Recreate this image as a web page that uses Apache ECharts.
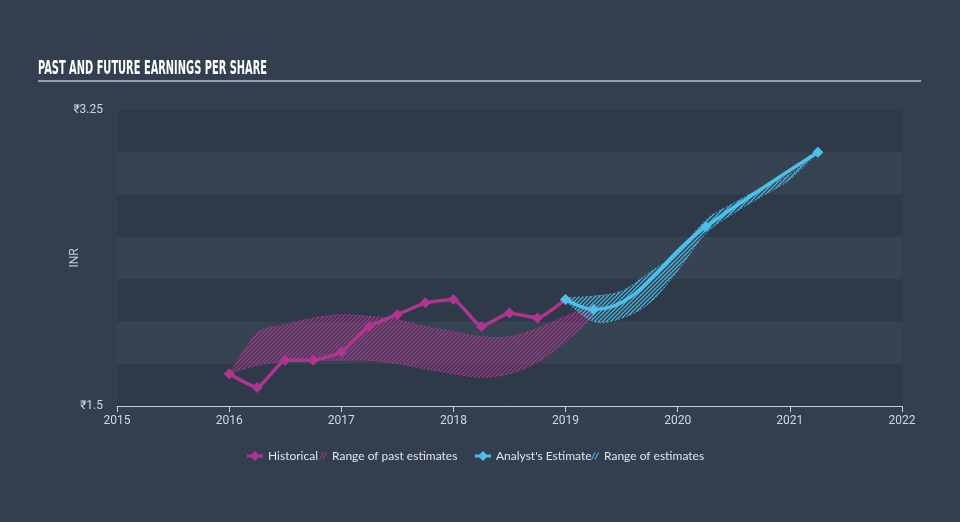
<!DOCTYPE html>
<html>
<head>
<meta charset="utf-8">
<script src="https://cdn.jsdelivr.net/npm/echarts@6/dist/echarts.min.js"></script>
<style>
html,body{margin:0;padding:0;background:#333f4e;}
#chart{width:960px;height:522px;}
</style>
</head>
<body>
<div id="chart"></div>
<script>
// ---- data ----
const histYears = [2016.0, 2016.25, 2016.5, 2016.75, 2017.0, 2017.25, 2017.5, 2017.75, 2018.0, 2018.25, 2018.5, 2018.75, 2019.0];
const histEps   = [1.69, 1.61, 1.77, 1.77, 1.82, 1.97, 2.04, 2.11, 2.13, 1.97, 2.05, 2.02, 2.13];

const pastRangeYears = [2016.0, 2016.25, 2016.5, 2016.75, 2017.0, 2017.25, 2017.5, 2017.75, 2018.0, 2018.25, 2018.5, 2018.75, 2019.0, 2019.25];
const pastRangeHigh  = [1.69, 1.93, 1.98, 2.02, 2.04, 2.03, 2.01, 1.97, 1.94, 1.91, 1.91, 1.96, 2.03, 2.10];
const pastRangeLow   = [1.69, 1.74, 1.76, 1.77, 1.77, 1.77, 1.75, 1.72, 1.69, 1.67, 1.69, 1.76, 1.88, 2.03];

const estYears = [2019.0, 2019.25, 2020.25, 2021.25];
const estEps   = [2.13, 2.07, 2.56, 3.00];

const estRangeYears = [2019.0, 2019.25, 2019.5, 2019.75, 2020.0, 2020.25, 2020.5, 2020.75, 2021.0, 2021.25];
const estRangeHigh  = [2.14, 2.15, 2.18, 2.29, 2.41, 2.60, 2.70, 2.79, 2.87, 3.00];
const estRangeLow   = [2.12, 2.00, 2.02, 2.11, 2.30, 2.52, 2.64, 2.74, 2.84, 3.00];

const xTicks = [2015, 2016, 2017, 2018, 2019, 2020, 2021, 2022];
const yTickLabels = [1.5, 3.25];

const TITLE = 'PAST AND FUTURE EARNINGS PER SHARE';

// ---- styles ----
const MAGENTA = '#b0358f';
const BLUE = '#4cc0e8';
const FONT = 'Roboto, "Noto Sans", "DejaVu Sans", sans-serif';
const TITLE_FONT = 'bold 19px "Liberation Sans Narrow", "DejaVu Sans Condensed", "Liberation Sans", sans-serif';

function hatch(color) {
  const c = document.createElement('canvas');
  c.width = 4; c.height = 4;
  const g = c.getContext('2d');
  g.strokeStyle = color;
  g.lineWidth = 1.3;
  g.beginPath();
  g.moveTo(0, 4); g.lineTo(4, 0);
  g.moveTo(-1, 1); g.lineTo(1, -1);
  g.moveTo(3, 5); g.lineTo(5, 3);
  g.stroke();
  return c;
}

function titleScale() {
  const c = document.createElement('canvas').getContext('2d');
  c.font = TITLE_FONT;
  const w = c.measureText(TITLE).width;
  return w > 0 ? 229 / w : 0.6;
}

// Catmull-Rom sampled curve in pixel space
function curve(pts) {
  const out = [];
  const n = pts.length;
  const t = 0.5;
  for (let i = 0; i < n - 1; i++) {
    const p0 = pts[Math.max(0, i - 1)], p1 = pts[i], p2 = pts[i + 1], p3 = pts[Math.min(n - 1, i + 2)];
    const c1 = [p1[0] + (p2[0] - p0[0]) * t / 3, p1[1] + (p2[1] - p0[1]) * t / 3];
    const c2 = [p2[0] - (p3[0] - p1[0]) * t / 3, p2[1] - (p3[1] - p1[1]) * t / 3];
    const steps = 16;
    for (let s = 0; s < steps; s++) {
      const u = s / steps, v = 1 - u;
      out.push([
        v*v*v*p1[0] + 3*v*v*u*c1[0] + 3*v*u*u*c2[0] + u*u*u*p2[0],
        v*v*v*p1[1] + 3*v*v*u*c1[1] + 3*v*u*u*c2[1] + u*u*u*p2[1]
      ]);
    }
  }
  out.push(pts[n - 1]);
  return out;
}

function bandSeries(name, years, high, low, color, fillColor) {
  const pattern = { image: hatch(fillColor), repeat: 'repeat' };
  return {
    name: name,
    type: 'custom',
    z: 1,
    silent: true,
    itemStyle: { color: color },
    data: [[years[0], low[0]]],
    renderItem: function (params, api) {
      const up = years.map((y, i) => api.coord([y, high[i]]));
      const lo = years.map((y, i) => api.coord([y, low[i]]));
      const upC = curve(up);
      const loC = curve(lo);
      const poly = upC.concat(loC.slice().reverse());
      return {
        type: 'group',
        children: [
          { type: 'polygon', shape: { points: poly }, style: { fill: pattern, stroke: null } },
          { type: 'polyline', shape: { points: upC }, style: { fill: null, stroke: color, lineWidth: 1, lineDash: [2, 2], opacity: 0.85 } },
          { type: 'polyline', shape: { points: loC }, style: { fill: null, stroke: color, lineWidth: 1, lineDash: [2, 2], opacity: 0.85 } }
        ]
      };
    }
  };
}

const chart = echarts.init(document.getElementById('chart'), null, { renderer: 'canvas' });

const lineIcon = 'path://M0,3.6 L4.6,3.6 L8,0 L11.4,3.6 L16,3.6 L16,6.4 L11.4,6.4 L8,10 L4.6,6.4 L0,6.4 Z';
const hatchIcon = 'path://M0,8 L4,0 L5.2,0 L1.2,8 Z M3.8,8 L7.8,0 L9,0 L5,8 Z';

function legendAt(left, name, icon, color, w, h) {
  return {
    left: left, top: 450, padding: 0,
    itemWidth: w, itemHeight: h, itemGap: 0,
    selectedMode: false,
    textStyle: { color: '#dfe4ea', fontSize: 12, fontFamily: 'Lato, "Noto Sans", sans-serif' },
    data: [{ name: name, icon: icon, itemStyle: { color: color } }]
  };
}

chart.setOption({
  backgroundColor: '#333f4e',
  animation: false,
  graphic: [
    {
      type: 'text', x: 38, y: 60, scaleX: titleScale(), scaleY: 1,
      style: { text: TITLE, fill: '#ffffff', font: TITLE_FONT }
    },
    {
      type: 'line', shape: { x1: 38, y1: 81, x2: 921, y2: 81 },
      style: { stroke: '#b9bfc7', lineWidth: 1.5 }
    }
  ],
  legend: [
    legendAt(247, 'Historical', lineIcon, MAGENTA, 16, 10),
    legendAt(319, 'Range of past estimates', hatchIcon, MAGENTA, 8, 8),
    legendAt(475, "Analyst's Estimate", lineIcon, BLUE, 16, 10),
    legendAt(591, 'Range of estimates', hatchIcon, BLUE, 8, 8)
  ],
  grid: { left: 117, right: 58, top: 110, bottom: 116 },
  xAxis: {
    type: 'value', min: xTicks[0], max: xTicks[xTicks.length - 1], interval: 1,
    axisLine: { show: true, lineStyle: { color: '#c9d0d8', width: 1 } },
    axisTick: { show: true, length: 6, lineStyle: { color: '#c9d0d8' } },
    axisLabel: { color: '#d3d8de', fontSize: 12, fontFamily: FONT, margin: 9,
      formatter: v => xTicks.indexOf(v) >= 0 ? String(v) : '' },
    splitLine: { show: false }
  },
  yAxis: {
    type: 'value', min: 1.5, max: 3.25, interval: 0.25,
    name: 'INR', nameLocation: 'middle', nameRotate: 90, nameGap: 36,
    nameMoveOverlap: false,
    nameTextStyle: { color: '#c8ced6', fontSize: 12, fontFamily: FONT },
    axisLine: { show: false }, axisTick: { show: false },
    axisLabel: { color: '#d3d8de', fontSize: 12, fontFamily: FONT, margin: 14,
      formatter: v => yTickLabels.some(t => Math.abs(t - v) < 1e-6) ? '₹' + v : '' },
    splitLine: { show: false },
    splitArea: { show: true, areaStyle: { color: ['#2e3a49', '#354352'] } }
  },
  series: [
    bandSeries('Range of past estimates', pastRangeYears, pastRangeHigh, pastRangeLow, MAGENTA, 'rgba(176,53,143,0.9)'),
    bandSeries('Range of estimates', estRangeYears, estRangeHigh, estRangeLow, BLUE, 'rgba(76,192,232,0.9)'),
    {
      name: 'Historical', type: 'line', z: 3,
      data: histYears.map((y, i) => [y, histEps[i]]),
      smooth: 0.15,
      symbol: 'diamond', symbolSize: 11,
      lineStyle: { color: MAGENTA, width: 3.5 },
      itemStyle: { color: MAGENTA }
    },
    {
      name: "Analyst's Estimate", type: 'line', z: 4,
      data: estYears.map((y, i) => [y, estEps[i]]),
      smooth: 0.4,
      symbol: 'diamond', symbolSize: 11,
      lineStyle: { color: BLUE, width: 3.5 },
      itemStyle: { color: BLUE }
    }
  ]
});
</script>
</body>
</html>
